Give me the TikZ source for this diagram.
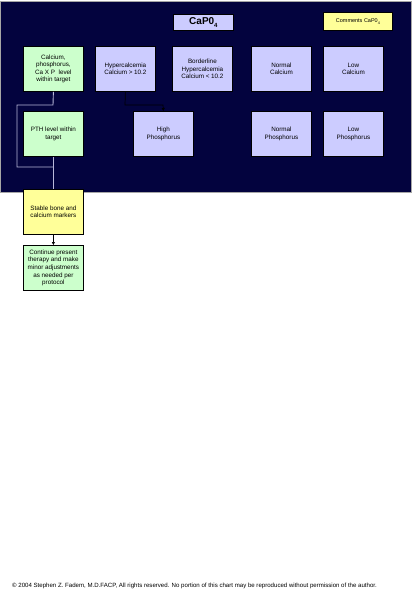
\documentclass[tikz,border=0pt]{standalone}
\usepackage{fontspec}
\setmainfont{Liberation Sans}
\usetikzlibrary{arrows.meta}
\definecolor{navy}{HTML}{03033E}
\definecolor{lav}{HTML}{CCCCFF}
\definecolor{lgreen}{HTML}{CCFFCC}
\definecolor{lyellow}{HTML}{FFFF99}
\definecolor{conn}{HTML}{B8B8D8}
\tikzset{
  box/.style={draw=black, line width=0.8pt, minimum width=60pt, minimum height=45pt, inner sep=1pt, align=center, font=\fontsize{6.3}{7.6}\selectfont},
  bluebox/.style={box, fill=lav},
  greenbox/.style={box, fill=lgreen},
  yellowbox/.style={box, fill=lyellow},
  gconn/.style={draw=conn, line width=0.9pt},
  bconn/.style={draw=black, line width=0.7pt, -{Triangle[length=3pt,width=3pt]}}
}
\begin{document}
\begin{tikzpicture}[x=1pt,y=-1pt]
\useasboundingbox (0,0) rectangle (417,600);
\fill[navy, draw=gray!70, line width=0.6pt] (0,1) rectangle (411,192);
\node[bluebox, minimum width=60pt, minimum height=16pt, font=\bfseries\fontsize{10}{12}\selectfont, anchor=north west] (title) at (173,14) {CaP0\raisebox{-2.5pt}{\fontsize{6}{7}\selectfont 4}};
\node[yellowbox, minimum width=69pt, minimum height=18pt, font=\fontsize{5.5}{6.6}\selectfont, anchor=north west] (comments) at (323,12) {Comments CaP0\raisebox{-1.5pt}{\fontsize{3.8}{4}\selectfont 4}};
\node[greenbox, anchor=north west] (calc) at (23,46) {Calcium,\\phosphorus,\\Ca X P\ \ level\\within target};
\node[bluebox, anchor=north west] (hyper) at (95,46) {Hypercalcemia\\Calcium > 10.2};
\node[bluebox, anchor=north west] (border) at (172,46) {Borderline\\Hypercalcemia\\Calcium < 10.2};
\node[bluebox, anchor=north west] (ncal) at (251,46) {Normal\\Calcium};
\node[bluebox, anchor=north west] (lcal) at (323,46) {Low\\Calcium};
\node[greenbox, anchor=north west] (pth) at (23,111) {PTH level within\\target};
\node[bluebox, anchor=north west] (hphos) at (133,111) {High\\Phosphorus};
\node[bluebox, anchor=north west] (nphos) at (251,111) {Normal\\Phosphorus};
\node[bluebox, anchor=north west] (lphos) at (323,111) {Low\\Phosphorus};
\node[yellowbox, anchor=north west] (stable) at (23,189) {Stable bone and\\calcium markers};
\node[greenbox, anchor=north west] (cont) at (23,245) {Continue present\\therapy and make\\minor adjustments\\as needed per\\protocol};
\coordinate (j1) at (53,105);
\coordinate (j2) at (17,105);
\coordinate (j3) at (17,167);
\coordinate (j4) at (53,167);
\draw[gconn] (calc.south) -- (j1) -- (j2) -- (j3) -- (j4);
\draw[gconn] (pth.south) -- (stable.north);
\coordinate (h1) at (125,105);
\coordinate (h2) at (163,105);
\draw[bconn] (hyper.south) -- (h1) -- (h2) -- (hphos.north);
\draw[bconn] (stable.south) -- (cont.north);
\node[font=\fontsize{6.1}{7.3}\selectfont, anchor=west, inner sep=0pt] (copy) at (12,586) {\char"00A9{} 2004 Stephen Z. Fadem, M.D.FACP, All rights reserved. No portion of this chart may be reproduced without permission of the author.};
\end{tikzpicture}
\end{document}
